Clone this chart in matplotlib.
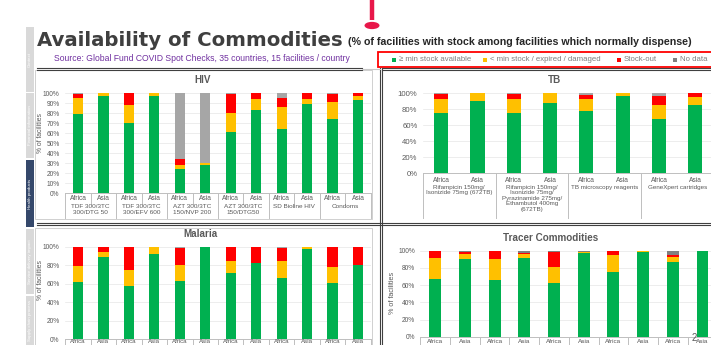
import matplotlib
matplotlib.use("Agg")
import matplotlib.pyplot as plt
import numpy as np
from matplotlib.patches import Rectangle, Circle
from matplotlib.lines import Line2D
from matplotlib.transforms import blended_transform_factory
from matplotlib.ticker import FuncFormatter

plt.rcParams['font.family'] = ['Liberation Sans', 'DejaVu Sans']

# ---- data: % of facilities per stock status, Africa / Asia pairs ----
regions = ["Africa", "Asia"]
status_labels = ["≥ min stock available", "< min stock / expired / damaged", "Stock-out", "No data"]

hiv_groups = ["TDF 300/3TC\n300/DTG 50", "TDF 300/3TC\n300/EFV 600", "AZT 300/3TC\n150/NVP 200",
              "AZT 300/3TC\n150/DTG50", "SD Bioline HIV", "Condoms"]
hiv_ok = [79.5, 97.5, 70, 97.5, 24.5, 28.5, 61, 83.5, 64, 89.5, 74.5, 93.5]
hiv_low = [16, 2.5, 18, 2.5, 4, 2, 19, 11, 22, 5, 17, 4]
hiv_out = [4, 0, 12, 0, 5.5, 0, 19, 5.5, 9.5, 5.5, 7.5, 2.5]
hiv_nodata = [0.5, 0, 0, 0, 66, 69.5, 1, 0, 4.5, 0, 1, 0]

tb_groups = ["Rifampicin 150mg/\nIsonizide 75mg (672TB)",
             "Rifampicin 150mg/\nIsonizide 75mg/\nPyrazinamide 275mg/\nEthambutol 400mg\n(672TB)",
             "TB microscopy reagents", "GeneXpert cartridges"]
tb_ok = [76, 91, 76, 88, 78, 96.5, 68, 85]
tb_low = [16.5, 9, 17.5, 12, 14.5, 3.5, 17, 11]
tb_out = [7, 0, 6, 0, 5, 0, 12, 4]
tb_nodata = [0.5, 0, 0.5, 0, 2.5, 0, 3, 0]

malaria_groups = ["", "", "", "", "", ""]
malaria_ok = [62, 88.5, 57, 92.5, 62.5, 100, 71, 82, 66, 98, 61, 80]
malaria_low = [17, 5.5, 18, 7.5, 18, 0, 13, 0, 18.5, 2, 17.5, 0]
malaria_out = [21, 6, 25, 0, 18, 0, 16, 18, 14, 0, 21, 20]
malaria_nodata = [0, 0, 0, 0, 1.5, 0, 0, 0, 1.5, 0, 0.5, 0]

tracer_groups = ["", "", "", "", ""]
tracer_ok = [67, 90, 65.5, 91, 63, 97, 75, 98.8, 86.5, 100]
tracer_low = [24.5, 6, 25, 5, 18.5, 1.5, 19.5, 1.2, 6.5, 0]
tracer_out = [8.5, 3, 9.5, 1.5, 17.5, 0, 5.5, 0, 1.5, 0]
tracer_nodata = [0, 1, 0, 2.5, 1, 1.5, 0, 0, 5.5, 0]

sidebar_sections = ["Context", "Financial information", "Health products",
                    "Service delivery impact", "Supply chain process"]

GREEN, YELLOW, RED = "#00b050", "#ffc000", "#ff0000"
GREY, DARKGREY = "#a6a6a6", "#808080"
TXT = "#595959"
AXLINE = "#bfbfbf"

W, H = 711, 345
fig = plt.figure(figsize=(W / 100, H / 100), dpi=100)
fig.patch.set_facecolor("white")


def fx(x):
    return x / W


def fy(y):
    return 1 - y / H


def box(x0, y0, x1, y1):
    return [fx(x0), fy(y1), (x1 - x0) / W, (y1 - y0) / H]


def hline(x0, x1, y, color, lw):
    fig.add_artist(Line2D([fx(x0), fx(x1)], [fy(y), fy(y)], color=color, lw=lw))


def vline(x, y0, y1, color, lw):
    fig.add_artist(Line2D([fx(x), fx(x)], [fy(y0), fy(y1)], color=color, lw=lw))


def panel(px, ok, low, out, nodata, nodata_color, step, tick_fs, bar_w):
    ax = fig.add_axes(box(*px))
    n = len(ok)
    x = np.arange(n)
    bottom = np.zeros(n)
    for vals, col in zip([ok, low, out, nodata], [GREEN, YELLOW, RED, nodata_color]):
        vals = np.array(vals, dtype=float)
        ax.bar(x, vals, bar_w, bottom=bottom, color=col, edgecolor="none", zorder=3)
        bottom += vals
    ax.set_xlim(-0.5, n - 0.5)
    ax.set_ylim(0, 100)
    ax.set_yticks(np.arange(0, 101, step))
    ax.yaxis.set_major_formatter(FuncFormatter(lambda v, p: f"{v:.0f}%"))
    ax.tick_params(axis="y", length=0, labelsize=tick_fs, labelcolor=TXT, pad=4)
    ax.set_xticks([])
    ax.grid(axis="y", color="#e6e6e6", lw=0.5, zorder=0)
    for s in ax.spines.values():
        s.set_visible(False)
    return ax


def category_axis(ax, groups, y_axis, y_inner, y_group, y_label, y_group_label, fs, gfs, inner, lsp):
    n = len(groups) * 2
    tr = blended_transform_factory(ax.transData, fig.transFigure)
    ax.plot([-0.5, n - 0.5], [fy(y_axis)] * 2, transform=tr, color=AXLINE, lw=0.7, clip_on=False)
    for k in range(n + 1):
        if k % 2 == 0:
            ax.plot([k - 0.5] * 2, [fy(y_axis), fy(y_group)], transform=tr, color=AXLINE, lw=0.7, clip_on=False)
        elif inner:
            ax.plot([k - 0.5] * 2, [fy(y_axis), fy(y_inner)], transform=tr, color=AXLINE, lw=0.7, clip_on=False)
    for i in range(n):
        ax.text(i, fy(y_label), regions[i % 2], transform=tr, ha="center", va="center",
                fontsize=fs, color=TXT, clip_on=False)
    for g, name in enumerate(groups):
        if name:
            ax.text(2 * g + 0.5, fy(y_group_label), name, transform=tr, ha="center", va="top",
                    fontsize=gfs, color=TXT, linespacing=lsp, clip_on=False)


# ---- slide furniture ----
# left navigation strip
sections_y = [(27, 92), (93, 158), (160, 227), (229, 294), (296, 350)]
for (y0, y1), name in zip(sections_y, sidebar_sections):
    col = "#35486b" if name == "Health products" else "#d9d9d9"
    fig.add_artist(Rectangle((fx(26), fy(y1)), 8 / W, (y1 - y0) / H, transform=fig.transFigure,
                             facecolor=col, edgecolor="none"))
    fig.text(fx(30), fy((y0 + min(y1, 345)) / 2), name, rotation=90, ha="center", va="center",
             fontsize=3.2, color="white")

# pin marker at the top
fig.add_artist(Line2D([fx(372), fx(372)], [fy(0), fy(20)], color="#e8174a", lw=3.2, solid_capstyle="butt"))
fig.add_artist(Circle((fx(372), fy(25.5)), 7.5 / W, transform=fig.transFigure,
                      facecolor="#e8174a", edgecolor="none"))

fig.text(fx(37), fy(46), "Availability of Commodities", family="DejaVu Sans", fontweight="bold",
         fontsize=14.2, color="#3f3f3f", va="baseline")
fig.text(fx(348), fy(45), "(% of facilities with stock among facilities which normally dispense)",
         fontweight="bold", fontsize=7.7, color="#262626", va="baseline")
fig.text(fx(202), fy(58.5), "Source: Global Fund COVID Spot Checks, 35 countries, 15 facilities / country",
         fontsize=6.2, color="#7030a0", ha="center", va="center")

# legend box
fig.add_artist(Rectangle((fx(378), fy(67)), (712 - 378) / W, 15 / H, transform=fig.transFigure,
                         facecolor="none", edgecolor="#ff0000", lw=1.3))
legend_items = [(392, GREEN), (483, YELLOW), (617, RED), (673, DARKGREY)]
for (lx, col), lab in zip(legend_items, status_labels):
    fig.add_artist(Rectangle((fx(lx), fy(61.5)), 4 / W, 4 / H, transform=fig.transFigure,
                             facecolor=col, edgecolor="none"))
    fig.text(fx(lx + 7), fy(59.5), lab, fontsize=5.6, color="#7f7f7f", va="center")

# chart frames and dividers
fig.add_artist(Rectangle((fx(35), fy(219)), (372 - 35) / W, (219 - 70) / H, transform=fig.transFigure,
                         facecolor="none", edgecolor="#d0d0d0", lw=0.7))
fig.add_artist(Rectangle((fx(35), fy(350)), (372 - 35) / W, (350 - 228) / H, transform=fig.transFigure,
                         facecolor="none", edgecolor="#d0d0d0", lw=0.7))
for dy in (0, 2):
    hline(37, 362, 68 + dy, "#404040", 0.8)
    hline(382, 711, 68 + dy, "#404040", 0.8)
    hline(37, 711, 223 + dy, "#404040", 0.8)
    vline(380 + dy, 68, 345, "#404040", 0.8)
hline(362, 380, 69, "#c8c8c8", 0.8)

# ---- HIV ----
ax = panel((65.3, 93.3, 370.7, 193.3), hiv_ok, hiv_low, hiv_out, hiv_nodata, GREY, 10, 4.8, 0.4)
category_axis(ax, hiv_groups, 193.3, 203.5, 218, 199, 204.5, 4.8, 4.6, True, 1.25)
fig.text(fx(203), fy(80), "HIV", fontweight="bold", fontsize=7.1, color=TXT, ha="center", va="center")
fig.text(fx(40), fy(133), "% of facilities", rotation=90, fontsize=4.9, color=TXT, ha="center", va="center")

# ---- TB ----
ax = panel((423.0, 93.3, 713.5, 173.3), tb_ok, tb_low, tb_out, tb_nodata, GREY, 20, 5.6, 0.39)
category_axis(ax, tb_groups, 173.3, 173.3, 218, 180, 184.5, 4.8, 4.5, False, 1.15)
fig.text(fx(555), fy(80), "TB", fontweight="bold", fontsize=7.1, color=TXT, ha="center", va="center")

# ---- Malaria ----
ax = panel((65.3, 246.7, 370.7, 339.0), malaria_ok, malaria_low, malaria_out, malaria_nodata, GREY, 20, 4.8, 0.4)
category_axis(ax, malaria_groups, 339.0, 349, 360, 341.8, 352, 4.4, 4.6, True, 1.25)
fig.text(fx(200), fy(234), "Malaria", fontweight="bold", fontsize=7.1, color=TXT, ha="center", va="center")
fig.text(fx(40), fy(280), "% of facilities", rotation=90, fontsize=4.9, color=TXT, ha="center", va="center")

# ---- Tracer commodities ----
ax = panel((420.4, 250.7, 717.3, 336.7), tracer_ok, tracer_low, tracer_out, tracer_nodata, DARKGREY, 20, 4.8, 0.4)
category_axis(ax, tracer_groups, 336.7, 347, 360, 341.2, 352, 4.6, 4.6, True, 1.25)
fig.text(fx(551), fy(238), "Tracer Commodities", fontweight="bold", fontsize=7.1, color=TXT, ha="center", va="center")
fig.text(fx(392), fy(293), "% of facilities", rotation=90, fontsize=5.2, color=TXT, ha="center", va="center")

fig.text(fx(694), fy(338), "2", fontsize=7, color=TXT, ha="center", va="center")

fig.savefig("out.png", dpi=100, facecolor="white")
